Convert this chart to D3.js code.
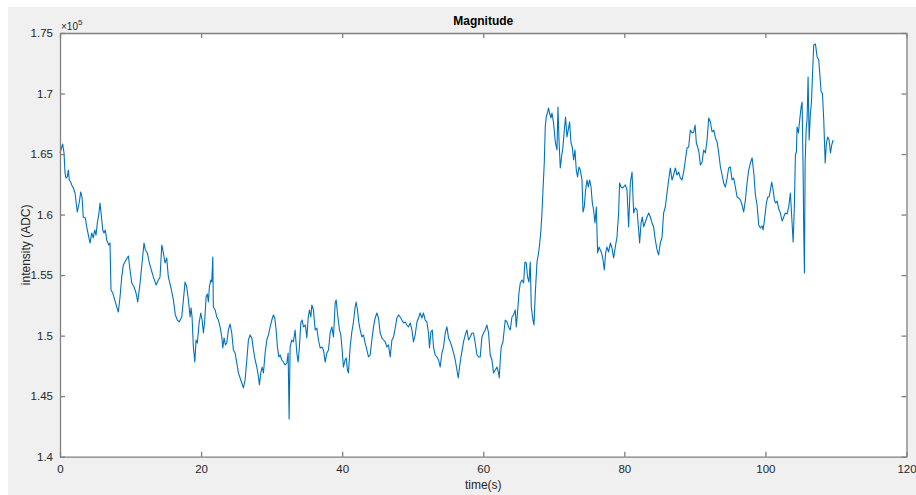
<!DOCTYPE html>
<html lang="en">
<head>
<meta charset="utf-8">
<script src="https://d3js.org/d3.v7.min.js"></script>
</head>
<style>
body { margin: 0; background: #ffffff; }
#chart { position: absolute; left: 0; top: 0; }
</style>
<body>
<div id="chart"></div>
<script>
// time (s) and intensity (ADC)
var time = [0,0.38,0.57,0.71,0.85,1.04,1.18,1.32,1.52,1.66,1.89,2.13,2.45,2.74,2.94,3.12,3.30,3.59,3.79,4.07,
4.26,4.50,4.72,4.92,5.11,5.29,5.49,5.67,5.82,6.06,6.24,6.43,6.62,6.91,7.09,7.23,7.48,7.76,8.04,8.27,
8.51,8.75,8.98,9.36,9.69,9.93,10.17,10.50,10.78,11.02,11.35,11.63,11.91,12.10,12.38,12.67,12.95,13.23,13.62,13.94,
14.18,14.43,14.65,14.89,15.13,15.36,15.70,16.07,16.35,16.64,16.92,17.02,17.26,17.49,17.73,17.97,18.20,18.44,18.58,18.72,
18.91,19.11,19.29,19.47,19.72,19.96,20.14,20.33,20.52,20.71,20.89,21.03,21.18,21.38,21.52,21.66,21.74,21.99,22.23,22.45,
22.69,22.94,23.08,23.26,23.45,23.64,23.87,24.11,24.35,24.58,24.82,25.06,25.29,25.53,25.77,26.00,26.24,26.48,26.71,26.95,
27.19,27.42,27.66,27.90,28.13,28.27,28.47,28.65,28.84,29.08,29.32,29.55,29.79,30.03,30.25,30.45,30.64,30.82,31.02,31.21,
31.45,31.67,31.91,32.16,32.34,32.48,32.62,32.86,33.09,33.33,33.57,33.76,33.94,34.14,34.33,34.51,34.79,34.99,35.18,35.36,
35.56,35.70,35.93,36.17,36.41,36.64,36.88,37.12,37.35,37.59,37.83,38.06,38.30,38.54,38.77,39.01,39.15,39.33,39.62,39.81,
39.96,40.18,40.42,40.57,40.75,40.89,41.13,41.37,41.60,41.84,41.98,42.17,42.37,42.55,42.79,43.02,43.26,43.50,43.73,43.97,
44.21,44.44,44.68,44.92,45.15,45.39,45.63,45.86,46.10,46.34,46.57,46.81,47.05,47.28,47.52,47.76,47.98,48.23,48.47,48.69,
48.94,49.18,49.40,49.64,49.89,50.11,50.35,50.60,50.82,51.06,51.30,51.53,51.77,52.01,52.24,52.38,52.58,52.77,52.95,53.19,
53.43,53.66,53.90,54.14,54.37,54.61,54.85,55.08,55.32,55.56,55.79,56.03,56.27,56.45,56.64,56.84,57.02,57.20,57.45,57.69,
57.91,58.15,58.40,58.62,58.86,59.11,59.33,59.57,59.81,60.04,60.28,60.52,60.75,60.99,61.23,61.46,61.70,61.94,62.17,62.27,
62.41,62.55,62.79,63.12,63.36,63.59,63.83,64.07,64.30,64.54,64.68,64.86,65.06,65.25,65.49,65.72,65.91,66.10,66.28,66.48,
66.66,66.81,67.05,67.19,67.38,67.62,67.84,67.98,68.18,68.32,68.47,68.65,68.79,68.93,69.12,69.26,69.40,69.60,69.74,69.97,
70.21,70.45,70.59,70.74,70.92,71.10,71.30,71.49,71.67,71.87,72.05,72.24,72.44,72.62,72.81,73.00,73.19,73.37,73.57,73.76,
74.00,74.14,74.32,74.51,74.71,74.89,75.08,75.28,75.46,75.64,75.84,76.03,76.21,76.41,76.59,76.78,76.98,77.16,77.35,77.54,
77.77,78.01,78.25,78.48,78.72,78.96,79.19,79.33,79.53,79.71,79.90,80.14,80.38,80.61,80.85,81.09,81.32,81.56,81.80,82.03,
82.17,82.37,82.55,82.74,82.98,83.22,83.45,83.69,83.93,84.15,84.39,84.64,84.86,85.10,85.35,85.57,85.81,86.05,86.28,86.52,
86.76,86.99,87.23,87.47,87.70,87.94,88.18,88.41,88.65,88.89,89.12,89.36,89.60,89.83,90.03,90.21,90.40,90.59,90.78,91.02,
91.25,91.49,91.73,91.96,92.20,92.44,92.67,92.91,93.15,93.38,93.62,93.86,94.08,94.32,94.57,94.79,95.03,95.27,95.50,95.74,
95.98,96.21,96.45,96.69,96.92,97.16,97.40,97.63,97.87,98.11,98.34,98.58,98.82,99.05,99.29,99.53,99.67,99.86,100.14,100.33,
100.52,100.71,100.89,101.09,101.27,101.46,101.66,101.89,102.12,102.37,102.59,102.83,103.07,103.30,103.54,103.78,103.93,104.11,104.25,104.39,
104.49,104.68,104.86,105.06,105.20,105.35,105.43,105.53,105.63,105.77,105.91,106.05,106.20,106.38,106.52,106.66,106.85,107.09,107.33,107.56,
107.70,107.90,108.08,108.27,108.47,108.65,108.84,109.03,109.22,109.40,109.60];

var intensity = [165090,165830,165090,163440,163020,163110,163680,162860,162690,162450,162200,161780,160210,161040,161870,161450,159800,159720,158980,158150,
157650,158480,158070,158730,158310,159310,159970,160960,160130,158730,158480,158730,157900,157490,157650,153770,153520,152950,152370,151950,
153190,154850,155840,156250,156580,155420,154350,154020,153520,152780,154350,156000,157650,157080,156830,156000,155420,154850,154190,154600,
154850,157490,156830,156000,156420,154850,154020,152950,151710,151290,151130,151290,151540,152950,154430,154020,152950,151540,152290,151540,
149060,147820,149640,149390,151050,151870,151290,150220,151290,153190,153440,152780,154020,154600,154430,156500,152370,152120,151540,151290,
150720,149890,148980,149810,149230,149390,150470,150960,150220,148820,148570,147740,146920,146500,146090,145680,146340,147990,149640,150060,
149810,148820,147990,147410,146590,145930,146920,147410,146920,148570,149640,150060,150720,151290,151710,151460,150470,149060,148240,148400,
147990,147820,147580,147740,148570,143120,149060,149640,149480,150470,148570,147820,149060,151050,151290,150720,150880,149810,151460,152120,
151540,152530,152120,150470,150630,149640,148980,149060,148820,147820,148570,148820,150220,150720,149890,152700,152950,151870,150470,150060,
149060,147410,147990,148160,147160,146920,149060,150300,151130,152370,152780,152120,151050,150470,149890,150060,149390,148820,148240,148400,
149640,150720,151460,151870,151460,150220,149810,149640,149480,149060,149230,148240,149640,149890,150630,151460,151710,151540,151290,151050,
151130,150880,150720,151050,150470,149480,150060,151130,151460,151870,151460,151870,151290,151130,150220,148980,150300,150470,149060,148400,
148240,147990,147410,148570,149060,150220,150720,149810,149480,149060,148570,147990,147160,146500,147410,148240,148820,149480,150060,150470,
149640,149890,150220,150220,149390,148400,148240,148240,149890,150220,150470,150880,150220,148400,147990,146920,147160,147410,146920,146500,
147990,149060,149480,151290,151130,150720,150470,151540,151710,152120,150720,151870,153520,154350,154600,154350,156080,156000,154850,154430,
156080,152370,151290,150880,153520,156080,156830,157490,158730,160130,162030,164260,167240,168060,168470,168800,168390,167980,168390,167570,
166000,165340,168890,166160,163850,164760,165580,166990,168060,166410,166990,167650,165910,165580,164510,165340,163680,163110,163930,163680,
162860,160210,160630,162030,162860,162280,162860,162280,160960,160380,159310,160630,156830,157320,157080,156830,156250,155420,156830,157320,
156910,157650,157240,156420,157320,158150,160130,162610,162280,162200,162280,162450,162030,158980,162610,163520,160130,160550,160380,158730,
157650,159310,159800,158980,159390,159800,160130,159800,159310,158980,157900,157080,156660,157650,158150,160130,160630,161780,162860,163850,
162860,163270,163850,163270,163520,163020,162860,163520,164510,165500,165580,166990,166740,166820,167400,165910,165580,165090,164100,164340,
165340,165090,166160,167980,167650,166820,166990,166330,166000,165090,163930,163270,162610,162280,163020,163850,163930,162860,163020,162280,
161450,161370,161210,160790,160210,161210,162610,163680,164260,164680,163520,161620,160790,159140,158890,159060,158730,159550,160960,161450,
161450,162030,162690,162030,161210,160960,161120,160460,160130,159470,159800,160130,160050,160630,161780,159310,157740,160790,164920,165170,
167240,166740,167810,168890,169300,163440,158730,155180,164260,166990,167980,171370,166160,168390,169220,171370,174010,174090,173020,172770,
171700,170130,170040,167810,164260,165910,166410,166160,165090,165750,166160];

var xTicks = [0, 20, 40, 60, 80, 100, 120];
var yTicks = [140000, 145000, 150000, 155000, 160000, 165000, 170000, 175000];

var W = 916, H = 495;
var margin = { top: 33, right: 10, bottom: 38, left: 60 };
var plotW = 906.5 - margin.left,
    plotH = 456.7 - margin.top;

var svg = d3.select("#chart")
    .append("svg")
    .attr("width", W)
    .attr("height", H)
    .style("font-family", "'Liberation Sans', Arial, sans-serif");

// grey figure window
svg.append("rect")
    .attr("x", 8).attr("y", 7)
    .attr("width", W - 8).attr("height", H - 7)
    .attr("fill", "#f0f0f0");

var g = svg.append("g")
    .attr("transform", "translate(" + margin.left + "," + margin.top + ")");

g.append("rect")
    .attr("width", plotW)
    .attr("height", plotH)
    .attr("fill", "#ffffff");

var x = d3.scaleLinear().domain([0, 120]).range([0, plotW]);
var y = d3.scaleLinear().domain([140000, 175000]).range([plotH, 0]);

var data = time.map(function(t, i) { return [t, intensity[i]]; });

g.append("path")
    .datum(data)
    .attr("fill", "none")
    .attr("stroke", "#0072bd")
    .attr("stroke-width", 1.1)
    .attr("stroke-linejoin", "round")
    .attr("d", d3.line()
        .x(function(d) { return x(d[0]); })
        .y(function(d) { return y(d[1]); }));

var axisColor = "#808080";
var textColor = "#262626";

// bottom + left axes (ticks point inward, MATLAB style)
var xAxis = g.append("g")
    .attr("transform", "translate(0," + plotH + ")")
    .call(d3.axisBottom(x).tickValues(xTicks).tickSizeInner(-5).tickSizeOuter(0).tickPadding(8));
var yAxis = g.append("g")
    .call(d3.axisLeft(y).tickValues(yTicks).tickSizeInner(-5).tickSizeOuter(0).tickPadding(7)
        .tickFormat(function(d) { return d3.format("")(+(d / 1e5).toFixed(2)); }));

// top + right mirrored ticks
var xTop = g.append("g")
    .call(d3.axisTop(x).tickValues(xTicks).tickSizeInner(-5).tickSizeOuter(0).tickFormat(""));
var yRight = g.append("g")
    .attr("transform", "translate(" + plotW + ",0)")
    .call(d3.axisRight(y).tickValues(yTicks).tickSizeInner(-5).tickSizeOuter(0).tickFormat(""));

[xAxis, yAxis, xTop, yRight].forEach(function(a) {
    a.select(".domain").attr("stroke", axisColor).attr("stroke-width", 1.3);
    a.selectAll(".tick line").attr("stroke", axisColor).attr("stroke-width", 1.3);
    a.selectAll(".tick text").attr("fill", textColor).style("font-size", "11.5px");
});

// exponent label
var expo = g.append("text")
    .attr("x", 1)
    .attr("y", -3)
    .attr("fill", textColor)
    .style("font-size", "10px");
expo.append("tspan").text("\u00d710");
expo.append("tspan").attr("dy", -5).style("font-size", "8px").text("5");

// title
g.append("text")
    .attr("x", plotW / 2)
    .attr("y", -8)
    .attr("text-anchor", "middle")
    .attr("fill", "#000")
    .style("font-size", "12px")
    .style("font-weight", "bold")
    .text("Magnitude");

// axis labels
g.append("text")
    .attr("x", plotW / 2)
    .attr("y", plotH + 32)
    .attr("text-anchor", "middle")
    .attr("fill", textColor)
    .style("font-size", "12px")
    .text("time(s)");

g.append("text")
    .attr("transform", "translate(-30," + (plotH / 2) + ")rotate(-90)")
    .attr("text-anchor", "middle")
    .attr("fill", textColor)
    .style("font-size", "12px")
    .text("intensity (ADC)");
</script>
</body>
</html>
